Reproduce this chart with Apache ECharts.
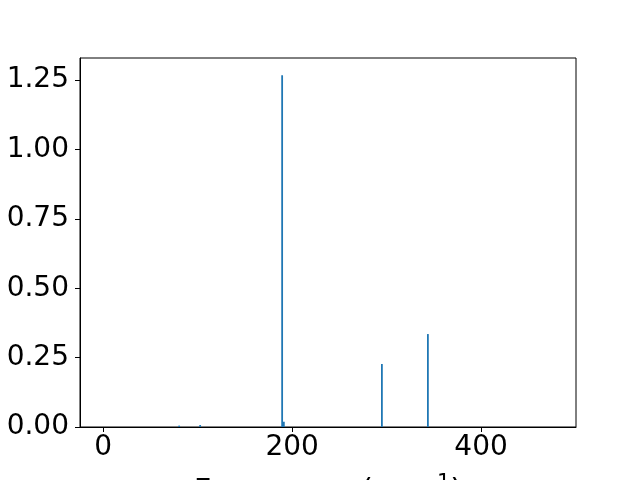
<!DOCTYPE html>
<html><head><meta charset="utf-8">
<script src="https://cdn.jsdelivr.net/npm/echarts@6/dist/echarts.min.js"></script>
<style>html,body{margin:0;padding:0;background:#fff}#c{width:640px;height:480px}</style>
</head><body><div id="c"></div>
<script>
const frequencies = [80.4, 102.6, 189.4, 191.2, 295.0, 343.7];
const intensities = [0.005, 0.007, 1.268, 0.019, 0.227, 0.335];
const xTicks = [0, 200, 400];
const yTicks = [0, 0.25, 0.5, 0.75, 1.0, 1.25];
const barWidthUnits = 1.9;

const chart = echarts.init(document.getElementById('c'), null, {renderer: 'canvas'});
const font = 'DejaVu Sans';
chart.setOption({
  animation: false,
  grid: {left: 80, right: 64, top: 58, bottom: 53, show: true, borderColor: '#000', borderWidth: 1,
    backgroundColor: 'transparent', containLabel: false, outerBoundsMode: 'none'},
  xAxis: {
    type: 'value', min: -24.6, max: 500.5,
    axisLine: {show: true, onZero: false, lineStyle: {color: '#000', width: 1}},
    axisTick: {show: true, length: 5, customValues: xTicks, lineStyle: {color: '#000'}},
    axisLabel: {customValues: xTicks, fontFamily: font, fontSize: 28, color: '#000', margin: 7},
    splitLine: {show: false},
    name: '{a|Frequency (cm}{s|−1}{a|)}',
    nameLocation: 'middle', nameGap: 46,
    nameTextStyle: {rich: {
      a: {fontFamily: font, fontSize: 30.5, lineHeight: 38, color: '#000'},
      s: {fontFamily: font, fontSize: 21, lineHeight: 21, color: '#000', verticalAlign: 'top'}
    }}
  },
  yAxis: {
    type: 'value', min: 0, max: 1.33,
    axisLine: {show: true, onZero: false, lineStyle: {color: '#000', width: 1}},
    axisTick: {show: true, length: 5, customValues: yTicks, lineStyle: {color: '#000'}},
    axisLabel: {customValues: yTicks, fontFamily: font, fontSize: 28, color: '#000', margin: 11,
      formatter: v => v.toFixed(2)},
    splitLine: {show: false}
  },
  series: [{
    type: 'custom',
    data: frequencies.map((f, i) => [f, intensities[i]]),
    renderItem: function (params, api) {
      const x = api.value(0), y = api.value(1);
      const p1 = api.coord([x - barWidthUnits / 2, y]);
      const p2 = api.coord([x + barWidthUnits / 2, 0]);
      return {type: 'rect', shape: {x: p1[0], y: p1[1], width: p2[0] - p1[0], height: p2[1] - p1[1]},
        style: {fill: '#1f77b4'}};
    }
  }]
});
</script></body></html>
